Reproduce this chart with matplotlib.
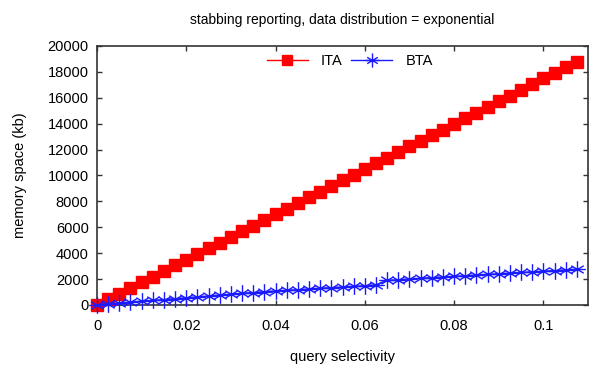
import matplotlib
matplotlib.use('Agg')
import matplotlib.pyplot as plt
from matplotlib.path import Path

plt.rcParams['font.family'] = ['Liberation Sans', 'DejaVu Sans']

# query selectivity
selectivity = [0.0, 0.0025, 0.005, 0.0075, 0.01, 0.0125, 0.015, 0.0175, 0.02, 0.0225,
               0.025, 0.0275, 0.03, 0.0325, 0.035, 0.0375, 0.04, 0.0425, 0.045, 0.0475,
               0.05, 0.0525, 0.055, 0.0575, 0.06, 0.0625, 0.065, 0.0675, 0.07, 0.0725,
               0.075, 0.0775, 0.08, 0.0825, 0.085, 0.0875, 0.09, 0.0925, 0.095, 0.0975,
               0.1, 0.1025, 0.105, 0.1075]

# memory space (kb)
ita = [0, 440, 870, 1310, 1750, 2190, 2620, 3060, 3500, 3930,
       4370, 4810, 5250, 5680, 6120, 6560, 6990, 7430, 7870, 8310,
       8740, 9180, 9620, 10050, 10490, 10930, 11370, 11800, 12240, 12680,
       13110, 13550, 13990, 14430, 14860, 15300, 15740, 16170, 16610, 17050,
       17490, 17920, 18360, 18800]
bta = [0, 100, 160, 220, 290, 350, 420, 490, 560, 620,
       690, 760, 830, 900, 960, 1030, 1080, 1130, 1180, 1230,
       1290, 1340, 1390, 1440, 1490, 1560, 1900, 1950, 2000, 2060,
       2110, 2160, 2210, 2260, 2310, 2360, 2410, 2460, 2510, 2560,
       2610, 2660, 2710, 2760]

xticks = [0, 0.02, 0.04, 0.06, 0.08, 0.1]
xticklabels = ['0', '0.02', '0.04', '0.06', '0.08', '0.1']
yticks = [0, 2000, 4000, 6000, 8000, 10000, 12000, 14000, 16000, 18000, 20000]

# gnuplot-like star: vertical, horizontal and two flat diagonals
star = Path([(0, -1), (0, 1), (-1, 0), (1, 0), (-0.75, -0.45), (0.75, 0.45),
             (-0.75, 0.45), (0.75, -0.45)],
            [Path.MOVETO, Path.LINETO] * 4)

fig = plt.figure(figsize=(6.01, 3.65), dpi=100)
ax = fig.add_axes([0.1614, 0.1644, 0.8170, 0.7096])

ax.plot(selectivity, ita, color='#ff0000', lw=1, marker='s', ms=8.5,
        mec='#ff0000', mfc='#ff0000', label='ITA', clip_on=False, zorder=3)
ax.plot(selectivity, bta, color='#1a1aff', lw=1, marker=star, ms=12,
        mew=1, label='BTA', clip_on=False, zorder=4)

ax.set_xlim(0, 0.11)
ax.set_ylim(0, 20000)
ax.set_xticks(xticks)
ax.set_xticklabels(xticklabels)
ax.set_yticks(yticks)
ax.tick_params(direction='in', top=True, right=True, length=3.5, width=1,
               labelsize=10.5, color='#333333')
ax.tick_params(axis='x', pad=10)
ax.tick_params(axis='y', pad=6)
for s in ax.spines.values():
    s.set_color('#333333')
    s.set_linewidth(1.2)

ax.set_xlabel('query selectivity', fontsize=10.5, labelpad=12)
ax.set_ylabel('memory space (kb)', fontsize=10.5, labelpad=15)
ax.set_title('stabbing reporting, data distribution = exponential', fontsize=10, pad=16)

ax.legend(loc='upper center', bbox_to_anchor=(0.515, 1.02), ncol=2, frameon=False,
          fontsize=10.5, handlelength=2.8, columnspacing=0.6, handletextpad=0.9,
          markerscale=0.85)

fig.savefig('out.png', dpi=100)
